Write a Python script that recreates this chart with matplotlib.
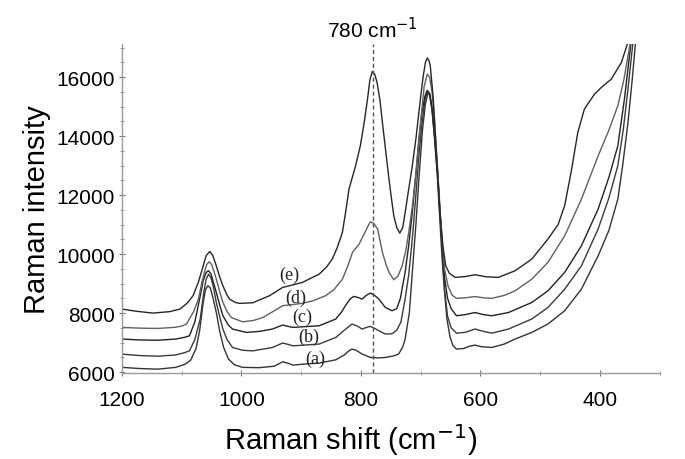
import matplotlib
matplotlib.use("Agg")
import matplotlib.pyplot as plt
from matplotlib.ticker import MultipleLocator

# Raman spectra (a)-(e): (wavenumber cm-1, intensity)
pts_a = [(1200, 6160), (1170, 6120), (1140, 6100), (1110, 6160), (1095, 6260), (1085, 6400), (1076, 6800),
         (1070, 7400), (1064, 8360), (1060, 8800), (1056, 8930), (1052, 8850), (1048, 8550), (1042, 8020),
         (1036, 7350), (1030, 6850), (1022, 6450), (1012, 6250), (998, 6160), (970, 6150), (945, 6200),
         (931, 6350), (922, 6300), (914, 6237), (890, 6280), (870, 6305), (842, 6417), (828, 6580),
         (820, 6720), (815, 6780), (808, 6740), (798, 6610), (784, 6497), (770, 6480), (759, 6497),
         (745, 6550), (737, 6610), (730, 6850), (726, 7120), (719, 8000), (714, 9380), (708, 11000),
         (703, 12540), (697, 14200), (692, 15100), (688, 15450), (685, 15400), (681, 14900), (677, 14000),
         (672, 12600), (668, 11200), (664, 9800), (660, 8700), (656, 7800), (651, 7200), (646, 6900),
         (640, 6780), (628, 6800), (618, 6880), (609, 6915), (598, 6860), (581, 6835), (560, 6950),
         (542, 7120), (514, 7345), (487, 7630), (459, 8080), (431, 8810), (403, 9940), (385, 10800),
         (370, 11865), (362, 12990), (353, 14460), (346, 15900), (339, 17500)]

pts_b = [(1200, 6610), (1170, 6560), (1140, 6540), (1110, 6580), (1095, 6660), (1087, 6720), (1078, 7100),
         (1069, 7800), (1063, 8700), (1059, 9150), (1055, 9320), (1051, 9200), (1047, 8900), (1042, 8360),
         (1036, 7850), (1031, 7460), (1024, 7100), (1015, 6835), (998, 6740), (981, 6720), (948, 6835),
         (931, 6985), (922, 6940), (914, 6890), (870, 6950), (842, 7175), (826, 7450), (815, 7630),
         (806, 7560), (798, 7460), (790, 7520), (784, 7550), (776, 7470), (770, 7400), (759, 7290),
         (748, 7300), (740, 7420), (733, 7700), (726, 8475), (720, 9300), (714, 10510), (708, 12000),
         (703, 13330), (698, 14400), (693, 15200), (689, 15500), (685, 15400), (681, 14900), (677, 14000),
         (672, 12800), (666, 10800), (660, 8800), (655, 7900), (649, 7500), (640, 7320), (625, 7350),
         (609, 7460), (595, 7380), (581, 7320), (553, 7460), (514, 7800), (487, 8190), (459, 8810),
         (431, 9600), (403, 10850), (385, 11900), (370, 13000), (361, 14200), (353, 15600), (343, 17500)]

pts_c = [(1200, 7120), (1170, 7090), (1140, 7080), (1110, 7120), (1095, 7180), (1087, 7230), (1078, 7700),
         (1070, 8475), (1064, 9100), (1059, 9380), (1055, 9435), (1051, 9330), (1047, 9050), (1042, 8700),
         (1036, 8250), (1031, 7910), (1022, 7600), (1015, 7460), (992, 7345), (970, 7380), (948, 7460),
         (931, 7595), (922, 7550), (914, 7515), (870, 7570), (842, 7800), (832, 8050), (826, 8250),
         (818, 8480), (812, 8565), (805, 8530), (798, 8475), (791, 8600), (784, 8680), (777, 8600),
         (770, 8475), (759, 8190), (748, 8080), (740, 8150), (734, 8500), (726, 9380), (720, 10300),
         (714, 11410), (708, 12700), (703, 13900), (698, 14800), (693, 15350), (689, 15550), (685, 15450),
         (681, 15000), (677, 14100), (672, 12900), (666, 10900), (660, 9200), (655, 8500), (649, 8150),
         (640, 7910), (625, 7950), (609, 8020), (595, 7950), (581, 7910), (553, 8020), (514, 8360),
         (487, 8755), (459, 9380), (431, 10280), (403, 11525), (385, 12600), (370, 13670), (359, 15250),
         (346, 17500)]

pts_d = [(1200, 7515), (1170, 7490), (1140, 7480), (1110, 7520), (1100, 7560), (1092, 7630), (1080, 8050),
         (1072, 8475), (1066, 9050), (1062, 9380), (1058, 9650), (1054, 9740), (1050, 9650), (1046, 9420),
         (1042, 9150), (1036, 8700), (1031, 8360), (1024, 8050), (1017, 7850), (998, 7705), (980, 7750),
         (964, 7850), (931, 8250), (898, 8330), (880, 8420), (859, 8590), (845, 8800), (831, 9150),
         (822, 9600), (814, 10060), (803, 10340), (792, 10790), (787, 11000), (784, 11095), (779, 11050),
         (772, 10850), (764, 10060), (758, 9650), (753, 9380), (745, 9130), (738, 9250), (731, 9600),
         (725, 10100), (720, 10735), (714, 11600), (709, 12540), (704, 13600), (700, 14500), (694, 15700),
         (689, 16100), (685, 16000), (681, 15500), (677, 14600), (672, 13000), (666, 11000), (660, 9500),
         (654, 8900), (647, 8600), (640, 8500), (625, 8520), (609, 8560), (595, 8520), (581, 8500),
         (560, 8600), (542, 8755), (514, 9150), (487, 9720), (459, 10620), (431, 11860), (403, 13330),
         (385, 14200), (370, 15030), (360, 15900), (353, 16720), (346, 17500)]

pts_e = [(1200, 8136), (1175, 8060), (1148, 8000), (1120, 8050), (1103, 8136), (1090, 8350), (1081, 8590),
         (1072, 9050), (1064, 9600), (1059, 9950), (1053, 10090), (1048, 9950), (1042, 9600), (1036, 9200),
         (1031, 8925), (1025, 8650), (1020, 8475), (1010, 8360), (1003, 8330), (981, 8350), (953, 8590),
         (931, 8870), (915, 8950), (898, 9040), (870, 9320), (858, 9550), (848, 9830), (840, 10200),
         (831, 10735), (825, 11500), (820, 12200), (809, 12990), (801, 13670), (795, 14400), (789, 15250),
         (785, 15900), (781, 16190), (777, 16100), (773, 15820), (768, 15200), (764, 14460), (758, 13400),
         (753, 12540), (749, 11900), (745, 11300), (740, 10900), (735, 10710), (730, 10900), (726, 11410),
         (720, 12200), (714, 12990), (708, 13900), (703, 14800), (699, 15500), (696, 16000), (692, 16500),
         (689, 16650), (686, 16550), (684, 16400), (679, 15300), (673, 13200), (668, 11500), (663, 10300),
         (658, 9600), (652, 9350), (642, 9210), (625, 9240), (609, 9300), (590, 9230), (570, 9210),
         (542, 9435), (514, 9830), (487, 10510), (470, 11000), (459, 11640), (448, 12800), (437, 14125),
         (426, 14915), (409, 15425), (395, 15700), (381, 15930), (364, 16500), (348, 17500)]

names = ["(a)", "(b)", "(c)", "(d)", "(e)"]
colors = ["#333333", "#3a3a3a", "#222222", "#606060", "#262626"]
# label positions (wavenumber, intensity)
label_w = [876, 887, 898, 909, 920]
label_i = [6475, 7200, 7875, 8530, 9320]

fig = plt.figure(figsize=(6.85, 4.6), dpi=100)
ax = fig.add_axes([0.178, 0.187, 0.785, 0.715])

for pts, col in zip([pts_a, pts_b, pts_c, pts_d, pts_e], colors):
    w, inten = zip(*pts)
    ax.plot(w, inten, color=col, lw=1.0)

for name, x, y in zip(names, label_w, label_i):
    ax.text(x, y, name, fontsize=13, family="Liberation Serif",
            ha="center", va="center", color="#222222")

ax.axvline(780, color="#555555", lw=1.0, ls=(0, (3, 2)))
ax.text(780, 1.046, "780 cm$^{-1}$", transform=ax.get_xaxis_transform(),
        ha="center", va="center", fontsize=15, family="Liberation Sans")

ax.set_xlim(1200, 300)
ax.set_ylim(5970, 17120)

ax.xaxis.set_major_locator(MultipleLocator(200))
ax.xaxis.set_minor_locator(MultipleLocator(100))
ax.yaxis.set_major_locator(MultipleLocator(2000))
ax.yaxis.set_minor_locator(MultipleLocator(500))

for s in ["top", "right"]:
    ax.spines[s].set_visible(False)
for s in ["left", "bottom"]:
    ax.spines[s].set_color("#9a9a9a")
    ax.spines[s].set_linewidth(1.0)

ax.tick_params(which="major", direction="inout", length=4, color="#777777", labelsize=15)
ax.tick_params(which="minor", direction="inout", length=3, color="#888888")
ax.tick_params(axis="x", which="major", pad=10)
ax.tick_params(axis="y", which="major", pad=3)
for lab in ax.get_xticklabels() + ax.get_yticklabels():
    lab.set_family("Liberation Sans")

ax.set_xlabel("Raman shift (cm$^{-1}$)", fontsize=21, family="Liberation Sans", va="center")
ax.xaxis.set_label_coords(0.426, -0.2)
ax.set_ylabel("Raman intensity", fontsize=21, family="Liberation Sans", va="center")
ax.yaxis.set_label_coords(-0.158, 0.5)

fig.savefig("out.png", dpi=100)
